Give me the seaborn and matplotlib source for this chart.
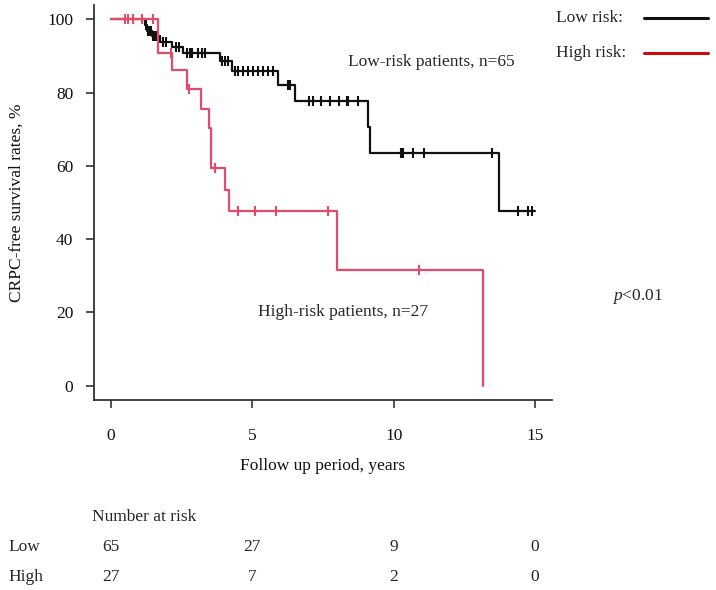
import matplotlib
matplotlib.use("Agg")
import matplotlib.pyplot as plt
import matplotlib.transforms as mtransforms
import numpy as np
import seaborn as sns

# Kaplan-Meier steps (years, % survival)
low_times = [0, 1.20, 1.28, 1.45, 1.75, 2.15, 2.55, 3.86, 4.27, 5.92, 6.51, 9.10, 9.16, 13.74, 15.0]
low_surv = [100, 98.5, 96.9, 95.4, 93.8, 92.3, 90.8, 88.5, 86.0, 82.0, 77.8, 70.6, 63.5, 47.6, 47.6]
low_cens = [1.25, 1.31, 1.36, 1.41, 1.50, 1.55, 1.62, 1.85, 1.95, 2.30, 2.40,
            2.70, 2.78, 2.85, 3.09, 3.21, 3.32, 3.92, 4.03, 4.15,
            4.39, 4.50, 4.68, 4.86, 5.03, 5.21, 5.39, 5.57, 5.74,
            6.27, 6.33, 7.01, 7.16, 7.42, 7.75, 8.08, 8.35, 8.40, 8.75,
            10.27, 10.32, 10.67, 11.08, 13.49, 14.41, 14.76, 14.88]

high_times = [0, 1.67, 2.17, 2.68, 3.18, 3.47, 3.55, 4.03, 4.17, 8.0, 13.15]
high_surv = [100, 90.9, 86.1, 81.0, 75.6, 70.2, 59.4, 53.5, 47.6, 31.7, 0]
high_cens = [0.50, 0.62, 0.79, 1.10, 1.50, 2.12, 2.75, 3.68, 4.50, 5.09, 5.84, 7.69, 10.90]

risk_times = [0, 5, 10, 15]
risk_low = [65, 27, 9, 0]
risk_high = [27, 7, 2, 0]

BLACK = "#111111"
RED = "#E44B6A"
FS = 12.5

sns.set_theme(style="ticks")
plt.rcParams["font.family"] = ["Liberation Serif", "DejaVu Serif"]
plt.rcParams["mathtext.fontset"] = "custom"
plt.rcParams["mathtext.rm"] = "Liberation Serif"
plt.rcParams["mathtext.it"] = "Liberation Serif:italic"


def level_at(times, surv, t):
    i = np.searchsorted(times, t, side="right") - 1
    return surv[i]


fig = plt.figure(figsize=(7.16, 5.90), dpi=100)
ax = fig.add_axes([94 / 716, 1 - 400.4 / 590, 458 / 716, 395.8 / 590])

for times, surv, cens, col in [(low_times, low_surv, low_cens, BLACK),
                               (high_times, high_surv, high_cens, RED)]:
    sns.lineplot(x=times, y=surv, drawstyle="steps-post", color=col,
                 linewidth=1.6, ax=ax, sort=False, estimator=None)
    cy = [level_at(times, surv, c) for c in cens]
    ax.plot(cens, cy, ls="none", marker="|", ms=7.5, mew=1.5, color=col)

ax.set_xlim(-0.6, 15.6)
ax.set_ylim(-4, 104)
ax.set_xticks(risk_times)
ax.set_yticks([0, 20, 40, 60, 80, 100])
sns.despine(ax=ax)
for s in ("left", "bottom"):
    ax.spines[s].set_color("#333333")
    ax.spines[s].set_linewidth(1.3)
ax.tick_params(axis="both", direction="out", length=6, width=1.2,
               color="#333333", labelsize=FS, labelcolor="#111111")
ax.tick_params(axis="x", pad=14)
ax.tick_params(axis="y", pad=9)
ax.set_xlabel("Follow up period, years", fontsize=FS, labelpad=10, color="#111111")
ax.set_ylabel("CRPC-free survival rates, %", fontsize=FS, labelpad=16, color="#111111")

ax.text(8.4, 88.3, "Low-risk patients, n=65", fontsize=FS, va="center", ha="left")
ax.text(5.2, 20.1, "High-risk patients, n=27", fontsize=FS, va="center", ha="left")

fig.text(612 / 716, 1 - 296 / 590, r"$\it{p}$<0.01", fontsize=FS, va="center", ha="left")

# legend drawn by hand, as in the original
for label, yy, col in [("Low risk:", 18, BLACK), ("High risk:", 53, "#CC0A10")]:
    fig.text(556 / 716, 1 - yy / 590, label, fontsize=FS, va="center", ha="left")
    fig.add_artist(plt.Line2D([644 / 716, 708 / 716], [1 - yy / 590, 1 - yy / 590],
                              color=col, lw=2.2, transform=fig.transFigure))

# number at risk table
trans = mtransforms.blended_transform_factory(ax.transData, fig.transFigure)
fig.text(92 / 716, 1 - 517 / 590, "Number at risk", fontsize=FS, va="center", ha="left")
for name, vals, yy in [("Low", risk_low, 547), ("High", risk_high, 577)]:
    fig.text(8 / 716, 1 - yy / 590, name, fontsize=FS, va="center", ha="left")
    for t, v in zip(risk_times, vals):
        ax.text(t, 1 - yy / 590, str(v), transform=trans, fontsize=FS,
                va="center", ha="center", clip_on=False)

fig.savefig("out.png", dpi=100)
